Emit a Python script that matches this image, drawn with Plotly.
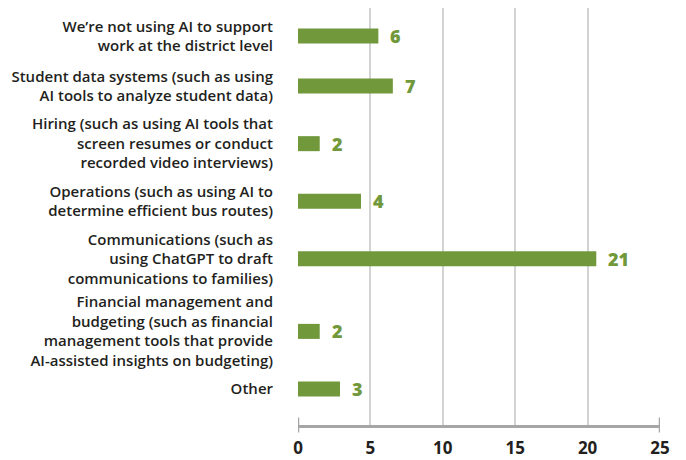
import plotly.graph_objects as go

# Dados
categorias = [
    "We’re not using AI to support<br>work at the district level",
    "Student data systems (such as using<br>AI tools to analyze student data)",
    "Hiring (such as using AI tools that<br>screen resumes or conduct<br>recorded video interviews)",
    "Operations (such as using AI to<br>determine efficient bus routes)",
    "Communications (such as<br>using ChatGPT to draft<br>communications to families)",
    "Financial management and<br>budgeting (such as financial<br>management tools that provide<br>AI-assisted insights on budgeting)",
    "Other",
]
contagens = [6, 7, 2, 4, 21, 2, 3]
comprimento_barras = [5.55, 6.55, 1.5, 4.35, 20.6, 1.5, 2.9]
eixo_x_ticks = [0, 5, 10, 15, 20, 25]

VERDE = "#71983b"
TEXTO = "#231f20"
FONTE = "Open Sans"

# Posição de cada barra depende do número de linhas do rótulo
linhas = [c.count("<br>") + 1 for c in categorias]
posicoes = [0.0]
for i in range(1, len(categorias)):
    posicoes.append(posicoes[-1] + 20 + 7.5 * (linhas[i - 1] + linhas[i]))

fig = go.Figure(
    go.Bar(
        x=comprimento_barras,
        y=posicoes,
        orientation="h",
        width=15,
        marker=dict(color=VERDE, line=dict(width=0)),
        hoverinfo="skip",
    )
)

# Valores ao lado das barras
for x, y, v in zip(comprimento_barras, posicoes, contagens):
    fig.add_annotation(
        x=x, y=y, text=str(v), showarrow=False, xanchor="left", xshift=10,
        font=dict(family=FONTE, size=18, color=VERDE, weight=800),
    )

# Marcas nas extremidades do eixo x
for xv in (eixo_x_ticks[0], eixo_x_ticks[-1]):
    fig.add_shape(
        type="line", xref="x", yref="paper", x0=xv, x1=xv, y0=-0.018, y1=0.018,
        line=dict(color="#a6a6a6", width=2.5),
    )

fig.update_xaxes(
    range=[0, 25],
    tickvals=eixo_x_ticks,
    showgrid=True,
    gridcolor="#d3d3d3",
    gridwidth=1.5,
    zeroline=False,
    showline=True,
    linecolor="#a6a6a6",
    linewidth=2.5,
    ticks="",
    automargin=False,
    ticklabelstandoff=6,
    tickfont=dict(family=FONTE, size=17, color=TEXTO, weight=700),
)

fig.update_yaxes(
    range=[posicoes[-1] + 36, -28],
    tickvals=posicoes,
    ticktext=categorias,
    showgrid=False,
    zeroline=False,
    showline=False,
    ticks="",
    automargin=False,
    ticklabelstandoff=24,
    tickfont=dict(family=FONTE, size=15, color=TEXTO, weight=600),
)

# A página tem 8px de margem no body: figura menor para caber na janela
fig.update_layout(
    width=678,
    height=452,
    margin=dict(l=290, r=26, t=0, b=35),
    plot_bgcolor="white",
    paper_bgcolor="white",
    showlegend=False,
)

fig.write_html("out.html")
